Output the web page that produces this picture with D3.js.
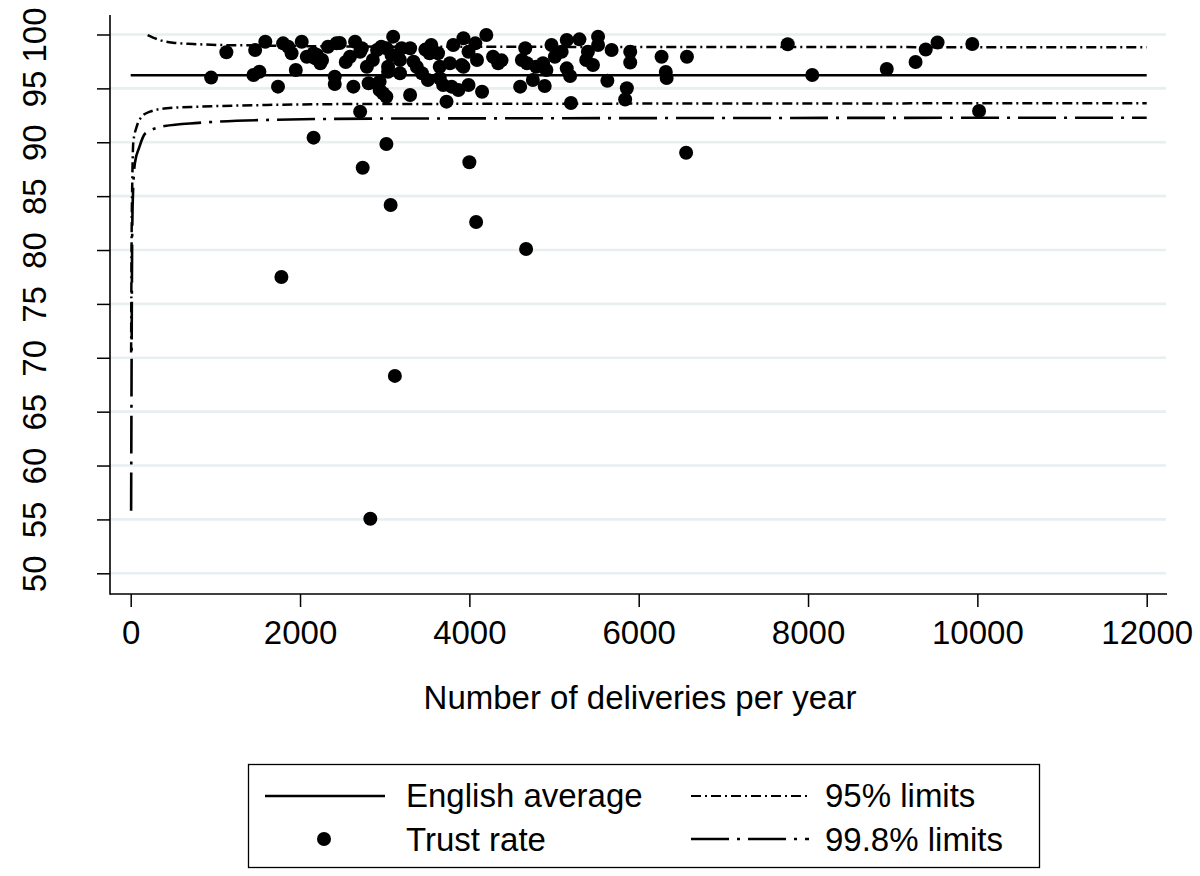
<!DOCTYPE html>
<html>
<head>
<meta charset="utf-8">
<script src="https://cdn.jsdelivr.net/npm/d3@7"></script>
<style>
  body { margin: 0; background: #fff; }
  svg text { font-family: "Liberation Sans", Arial, Helvetica, sans-serif; fill: #000; }
</style>
</head>
<body>
<svg id="chart" width="1200" height="876"></svg>
<script>
// values
var deliveries = [950, 1130, 1470, 1590, 1450, 1520, 1740, 1800, 1860, 1900, 1950, 1780, 2160,
  2020, 2080, 2160, 2180, 2240, 2260, 2330, 2430, 2410, 2410, 2470, 2590, 2630, 2650, 2710,
  2730, 2790, 2810, 2710, 2740, 2830, 2910, 2940, 2960, 2980, 3020, 3020, 3040, 3040, 2940,
  3020, 3070, 3120, 3100, 3080, 3180, 3180, 3200, 3300, 3300, 3340, 3380, 3440, 3510, 3530,
  3550, 3630, 3650, 3650, 3690, 3730, 3770, 3790, 3810, 3870, 3910, 3930, 3990, 3990, 4000,
  4070, 4090, 4080, 4150, 4200, 4280, 4340, 4620, 4660, 4680, 4600, 4670, 3930, 4750, 4790,
  4870, 4910, 4890, 4970, 5010, 5090, 5150, 5150, 5190, 5200, 5300, 5380, 5400, 5460, 5520,
  5520, 5630, 5680, 5860, 5840, 5900, 5900, 6270, 6320, 6330, 6570, 6560, 7760, 8050, 8930,
  9270, 9390, 9530, 9940, 10020, 2860, 2540, 2200, 3480, 4380];
var trustRate = [96.0, 98.35, 98.56, 99.33, 96.24, 96.55, 95.16, 99.18, 98.87, 98.26, 96.71, 77.5, 90.43,
  99.33, 97.94, 98.26, 97.79, 97.33, 97.63, 98.87, 99.18, 96.08, 95.41, 99.21, 97.94, 95.16, 99.33, 98.4,
  98.72, 97.01, 95.47, 92.84, 87.64, 55.06, 98.56, 95.62, 98.87, 94.55, 94.23, 98.72, 97.01, 96.55, 94.85,
  89.84, 84.18, 68.32, 99.8, 98.1, 97.63, 96.4, 98.72, 98.72, 94.39, 97.48, 96.98, 96.4, 95.78, 98.26,
  99.03, 98.26, 97.01, 95.94, 95.31, 93.77, 97.33, 95.16, 99.03, 94.85, 97.17, 99.65, 98.4, 95.31, 88.14,
  99.18, 97.63, 82.6, 94.69, 99.95, 97.94, 97.33, 97.63, 98.72, 97.33, 95.16, 80.1, 97.01, 95.78, 97.01,
  97.33, 96.71, 95.22, 99.03, 97.94, 98.4, 99.49, 96.86, 96.15, 93.64, 99.55, 97.63, 98.4, 97.17, 99.8,
  99.03, 95.71, 98.56, 95.01, 93.97, 98.4, 97.4, 97.94, 96.52, 95.96, 97.94, 89.03, 99.09, 96.24, 96.8,
  97.45, 98.61, 99.26, 99.12, 92.9, 97.63, 97.45, 98.1, 98.6, 97.6];

var englishAverage = 96.22;
var averageN = [0, 12000];

var upper95N = [200, 366, 500, 735, 1015, 1290, 3000, 12000];
var upper95 = [99.95, 99.43, 99.24, 99.12, 99.03, 99.0, 98.87, 98.82];
var lower95N = [5, 10, 19, 31, 71, 130, 228, 425, 818, 1606, 2787, 12000];
var lower95 = [70.5, 80, 86.5, 90, 91.45, 92.37, 92.84, 93.15, 93.3, 93.46, 93.55, 93.62];
var lower998N = [5, 10, 15, 22, 50, 100, 170, 400, 800, 1500, 3000, 12000];
var lower998 = [55.8, 68, 78, 84, 88.1, 89.5, 90.8, 91.5, 91.8, 92.05, 92.2, 92.28];

var xTicks = [0, 2000, 4000, 6000, 8000, 10000, 12000];
var yTicks = [50, 55, 60, 65, 70, 75, 80, 85, 90, 95, 100];

var svg = d3.select("#chart");

var x = d3.scaleLinear().domain([0, 12000]).range([130.7, 1146.7]);
var y = d3.scaleLinear().domain([50, 100]).range([573.3, 34.5]);

var plotLeft = 110, plotRight = 1167, plotTop = 15, plotBottom = 594;

// gridlines
svg.append("g").selectAll("line")
    .data(yTicks)
  .enter().append("line")
    .attr("x1", plotLeft).attr("x2", plotRight - 1)
    .attr("y1", function(d) { return y(d); })
    .attr("y2", function(d) { return y(d); })
    .attr("stroke", "#e7eff1")
    .attr("stroke-width", 2.6);

// axes
var yAxis = svg.append("g")
    .attr("transform", "translate(" + plotLeft + ",0)")
    .call(d3.axisLeft(y).tickValues(yTicks).tickSize(13).tickFormat(d3.format("d")));
yAxis.select(".domain").remove();
yAxis.selectAll(".tick line").attr("stroke", "#000").attr("stroke-width", 1.5);
yAxis.selectAll(".tick text")
    .attr("x", null).attr("dy", null)
    .attr("text-anchor", "middle")
    .attr("transform", "translate(-64,0) rotate(-90)")
    .style("font-size", "33px");

var xAxis = svg.append("g")
    .attr("transform", "translate(0," + plotBottom + ")")
    .call(d3.axisBottom(x).tickValues(xTicks).tickSize(13).tickFormat(d3.format("d")));
xAxis.select(".domain").remove();
xAxis.selectAll(".tick line").attr("stroke", "#000").attr("stroke-width", 1.5);
xAxis.selectAll(".tick text")
    .attr("y", 50).attr("dy", null)
    .style("font-size", "33px");

svg.append("line")
    .attr("x1", plotLeft).attr("x2", plotLeft)
    .attr("y1", plotTop).attr("y2", plotBottom + 0.75)
    .attr("stroke", "#000").attr("stroke-width", 1.6);
svg.append("line")
    .attr("x1", plotLeft).attr("x2", plotRight)
    .attr("y1", plotBottom).attr("y2", plotBottom)
    .attr("stroke", "#000").attr("stroke-width", 1.6);

svg.append("text")
    .attr("x", 640).attr("y", 709)
    .attr("text-anchor", "middle")
    .style("font-size", "33px")
    .text("Number of deliveries per year");

// lines
var line = d3.line()
    .x(function(d) { return x(d[0]); })
    .y(function(d) { return y(d[1]); })
    .curve(d3.curveMonotoneX);

var dash95 = "10,4,2,4";
var dash998 = "38,8,3,8";

svg.append("path")
    .datum(averageN.map(function(n) { return [n, englishAverage]; }))
    .attr("d", line)
    .attr("fill", "none").attr("stroke", "#000").attr("stroke-width", 2.6);

svg.append("path")
    .datum(upper95N.map(function(n, i) { return [n, upper95[i]]; }))
    .attr("d", line)
    .attr("fill", "none").attr("stroke", "#000").attr("stroke-width", 2.5)
    .attr("stroke-dasharray", dash95);

svg.append("path")
    .datum(lower95N.map(function(n, i) { return [n, lower95[i]]; }))
    .attr("d", line)
    .attr("fill", "none").attr("stroke", "#000").attr("stroke-width", 2.5)
    .attr("stroke-dasharray", dash95);

svg.append("path")
    .datum(lower998N.map(function(n, i) { return [n, lower998[i]]; }))
    .attr("d", line)
    .attr("fill", "none").attr("stroke", "#000").attr("stroke-width", 2.6)
    .attr("stroke-dasharray", dash998);

// trust rates
svg.append("g").selectAll("circle")
    .data(deliveries.map(function(n, i) { return [n, trustRate[i]]; }))
  .enter().append("circle")
    .attr("cx", function(d) { return x(d[0]); })
    .attr("cy", function(d) { return y(d[1]); })
    .attr("r", 7)
    .attr("fill", "#000");

// legend
var legend = svg.append("g");
legend.append("rect")
    .attr("x", 248.5).attr("y", 764.5).attr("width", 791).attr("height", 103)
    .attr("fill", "#fff").attr("stroke", "#000").attr("stroke-width", 1.3);

legend.append("line").attr("x1", 265).attr("x2", 385).attr("y1", 796).attr("y2", 796)
    .attr("stroke", "#000").attr("stroke-width", 2.4);
legend.append("text").attr("x", 406).attr("y", 807).style("font-size", "33px").text("English average");

legend.append("circle").attr("cx", 324).attr("cy", 839).attr("r", 7).attr("fill", "#000");
legend.append("text").attr("x", 406).attr("y", 851).style("font-size", "33px").text("Trust rate");

legend.append("line").attr("x1", 691).attr("x2", 809).attr("y1", 796).attr("y2", 796)
    .attr("stroke", "#000").attr("stroke-width", 2.2).attr("stroke-dasharray", dash95);
legend.append("text").attr("x", 825).attr("y", 807).style("font-size", "33px").text("95% limits");

legend.append("line").attr("x1", 691).attr("x2", 809).attr("y1", 839).attr("y2", 839)
    .attr("stroke", "#000").attr("stroke-width", 2.4).attr("stroke-dasharray", dash998);
legend.append("text").attr("x", 825).attr("y", 851).style("font-size", "33px").text("99.8% limits");
</script>
</body>
</html>
